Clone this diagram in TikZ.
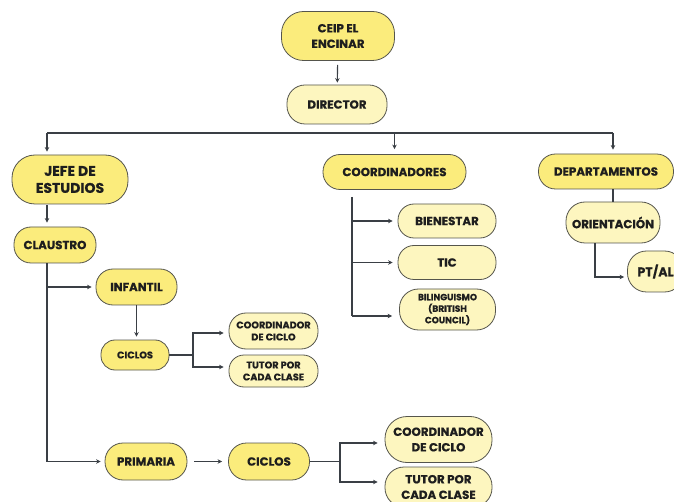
\documentclass[tikz,border=0pt]{standalone}
\usepackage{fontspec}
\setmainfont{Poppins}[BoldFeatures={FakeBold=0.6}]
\usetikzlibrary{arrows.meta,calc}
\definecolor{ybright}{HTML}{FBEC7C}
\definecolor{ylight}{HTML}{FDF6BF}
\definecolor{edgec}{HTML}{55554C}
\definecolor{ink}{HTML}{1E1E1E}
\definecolor{connc}{HTML}{3A3F45}
\tikzset{
  box/.style={draw=edgec, line width=0.8pt, text=ink, align=center, inner sep=0pt, font=\bfseries},
  bright/.style={box, fill=ybright},
  light/.style={box, fill=ylight},
  fbig/.style={font=\fontsize{14}{17}\bfseries\selectfont},
  fmed/.style={font=\fontsize{11.8}{15.5}\bfseries\selectfont},
  fsmall/.style={font=\fontsize{9.7}{12}\bfseries\selectfont},
  ftiny/.style={font=\fontsize{9}{11.5}\bfseries\selectfont},
  conn/.style={draw=connc, line width=1.1pt},
  arr/.style={conn, -{Stealth[length=4.5pt,width=4.5pt]}},
}
\begin{document}
\begin{tikzpicture}[x=1pt,y=-1pt]
\useasboundingbox (0,0) rectangle (674,502);
\clip (0,0) rectangle (674,502);
% top
\node[bright,fmed,minimum width=113pt,minimum height=49pt,rounded corners=22pt] (ceip) at (338,36) {CEIP EL\\ENCINAR};
\node[light,fmed,minimum width=100pt,minimum height=39pt,rounded corners=18pt] (director) at (337,104.5) {DIRECTOR};
% level 2
\node[bright,fbig,minimum width=116pt,minimum height=49pt,rounded corners=23pt] (jefe) at (70,179.5) {JEFE DE\\ESTUDIOS};
\node[bright,fmed,minimum width=143pt,minimum height=35pt,rounded corners=17pt] (coordinadores) at (394.5,172) {COORDINADORES};
\node[bright,fmed,minimum width=135pt,minimum height=35pt,rounded corners=17pt] (departamentos) at (606,171.5) {DEPARTAMENTOS};
% bus
\coordinate (busL) at (47,133);
\coordinate (busM) at (394.5,133);
\coordinate (busR) at (613,133);
\draw[arr,shorten <=4pt,shorten >=2pt] (ceip) -- (director);
\draw[conn] (busL) -- (busR);
\draw[arr,shorten >=3pt] (busL) -- (busL |- jefe.north);
\draw[arr,shorten >=5pt] (busM) -- (coordinadores.north);
\draw[arr,shorten >=4pt] (busR) -- (busR |- departamentos.north);
% jefe branch
\node[bright,fmed,minimum width=82pt,minimum height=36pt,rounded corners=17pt] (claustro) at (55,245) {CLAUSTRO};
\node[bright,fmed,minimum width=81pt,minimum height=36pt,rounded corners=17pt] (infantil) at (136.5,287) {INFANTIL};
\node[bright,fsmall,minimum width=68pt,minimum height=30pt,rounded corners=14pt] (ciclosA) at (135,355) {CICLOS};
\node[light,fsmall,minimum width=89pt,minimum height=36pt,rounded corners=17pt] (coordA) at (273.5,331) {COORDINADOR\\DE CICLO};
\node[light,fsmall,minimum width=89pt,minimum height=32pt,rounded corners=15pt] (tutorA) at (273.5,371) {TUTOR POR\\CADA CLASE};
\node[bright,fmed,minimum width=82pt,minimum height=37pt,rounded corners=18pt] (primaria) at (146,461.5) {PRIMARIA};
\node[bright,fmed,minimum width=81pt,minimum height=37pt,rounded corners=18pt] (ciclosB) at (269,461.5) {CICLOS};
\node[light,fmed,minimum width=107pt,minimum height=46pt,rounded corners=22pt] (coordB) at (438.5,439.5) {COORDINADOR\\DE CICLO};
\node[light,fmed,minimum width=107pt,minimum height=40pt,rounded corners=19pt] (tutorB) at (438.5,487) {TUTOR POR\\CADA CLASE};
\draw[arr,shorten <=1pt,shorten >=4pt] (jefe.south -| busL) -- (claustro.north -| busL);
\draw[arr,shorten >=4pt] (claustro.south -| busL) |- (primaria.west);
\draw[arr,shorten >=4pt] (busL |- infantil) -- (infantil.west);
\draw[arr,shorten >=3pt] (infantil.south) -- (infantil.south |- ciclosA.north);
\coordinate (jA) at (193,355);
\draw[conn] (ciclosA.east) -- (jA);
\draw[arr,shorten >=5pt] (jA) |- ([yshift=-2pt]coordA.west);
\draw[arr,shorten >=5pt] (jA) |- ([yshift=4pt]tutorA.west);
\draw[arr,shorten <=7pt,shorten >=6pt] (primaria.east) -- (ciclosB.west);
\coordinate (jB) at (340,461.5);
\draw[conn] (ciclosB.east) -- (jB);
\draw[arr,shorten >=7pt] (jB) |- ([yshift=-3.5pt]coordB.west);
\draw[arr,shorten >=7pt] (jB) |- ([yshift=5pt]tutorB.west);
% coordinadores branch
\node[light,fmed,minimum width=98pt,minimum height=34pt,rounded corners=16pt] (bienestar) at (447,221) {BIENESTAR};
\node[light,fmed,minimum width=98pt,minimum height=34pt,rounded corners=16pt] (tic) at (447,262.5) {TIC};
\node[light,ftiny,minimum width=96pt,minimum height=41pt,rounded corners=19pt] (biling) at (447.5,309.5) {BILINGUISMO\\(BRITISH\\COUNCIL)};
\coordinate (cT) at (352,197);
\draw[conn] (cT) -- (cT |- 0,316);
\draw[arr,shorten >=5pt] (cT |- bienestar) -- (bienestar.west);
\draw[arr,shorten >=5pt] (cT |- tic) -- (tic.west);
\draw[arr,shorten >=7pt] (cT |- 0,316) -- ([yshift=-6.5pt]biling.west);
% departamentos branch
\node[light,fmed,minimum width=94pt,minimum height=41pt,rounded corners=19pt] (orient) at (613,222.5) {ORIENTACIÓN};
\node[light,font=\fontsize{12.5}{15}\bfseries\selectfont,minimum width=56pt,minimum height=41pt,rounded corners=19pt] (ptal) at (655.5,271.5) {PT/AL};
\draw[conn] (departamentos.south -| busR) -- (orient.north -| busR);
\draw[arr,shorten >=3pt] (orient.south -| 595,0) |- ([yshift=-5.5pt]ptal.west);
\end{tikzpicture}
\end{document}
